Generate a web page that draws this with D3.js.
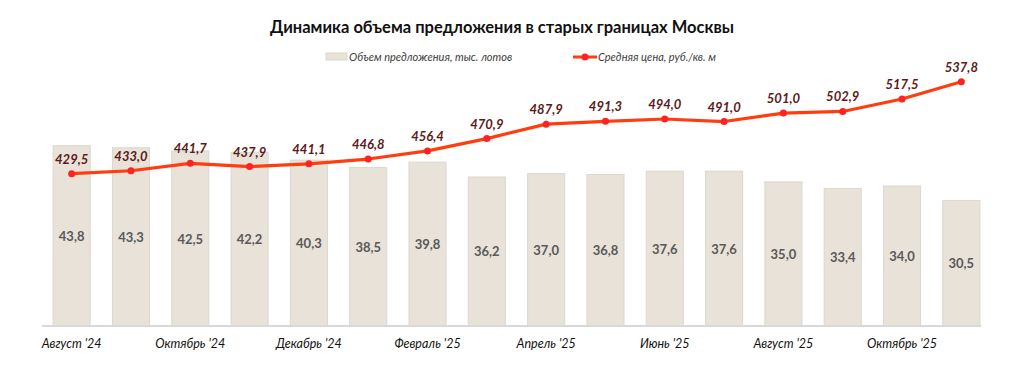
<!DOCTYPE html>
<html>
<head>
<meta charset="utf-8">
<script src="https://cdn.jsdelivr.net/npm/d3@7"></script>
<style>
  body { margin: 0; background: #fff; }
  svg { font-family: Lato, "Open Sans", sans-serif; }
</style>
</head>
<body>
<div id="chart"></div>
<script>
const months = ["Август '24", "Сентябрь '24", "Октябрь '24", "Ноябрь '24", "Декабрь '24", "Январь '25",
  "Февраль '25", "Март '25", "Апрель '25", "Май '25", "Июнь '25", "Июль '25",
  "Август '25", "Сентябрь '25", "Октябрь '25", "Ноябрь '25"];
const supply = [43.8, 43.3, 42.5, 42.2, 40.3, 38.5, 39.8, 36.2, 37.0, 36.8, 37.6, 37.6, 35.0, 33.4, 34.0, 30.5];
const price = [429.5, 433.0, 441.7, 437.9, 441.1, 446.8, 456.4, 470.9, 487.9, 491.3, 494.0, 491.0, 501.0, 502.9, 517.5, 537.8];

const width = 1034;
const height = 371;
const base = 326;
const fmt = v => d3.format(".1f")(v).replace(".", ",");

const x = d3.scaleBand().domain(months).range([42, 991]).paddingInner(0.375).paddingOuter(0.1875);
const yBar = d3.scaleLinear().domain([0, 60]).range([base, 79]);
const yLine = d3.scaleLinear().domain([250, 560]).range([base, 63]);

const svg = d3.select("#chart").append("svg")
  .attr("width", width)
  .attr("height", height);

svg.append("text")
  .attr("x", 502)
  .attr("y", 33)
  .attr("text-anchor", "middle")
  .attr("font-size", 16.5)
  .attr("font-weight", "bold")
  .attr("fill", "#111")
  .text("Динамика объема предложения в старых границах Москвы");

// legend
const leg = svg.append("g").attr("font-size", 11).attr("font-style", "italic").attr("fill", "#404040");
leg.append("rect").attr("x", 326).attr("y", 53).attr("width", 21).attr("height", 7)
  .attr("fill", "#e8e2d8").attr("stroke", "#dcd7cf");
leg.append("text").attr("x", 349).attr("y", 61).text("Объем предложения, тыс. лотов");
leg.append("line").attr("x1", 573).attr("x2", 597).attr("y1", 57).attr("y2", 57)
  .attr("stroke", "#ff3d0f").attr("stroke-width", 3);
leg.append("circle").attr("cx", 585).attr("cy", 57).attr("r", 3.5).attr("fill", "#ff2222");
leg.append("text").attr("x", 598).attr("y", 61).text("Средняя цена, руб./кв. м");

// bars
svg.selectAll("rect.bar")
  .data(supply)
  .enter()
  .append("rect")
  .attr("class", "bar")
  .attr("x", (d, i) => x(months[i]))
  .attr("y", d => yBar(d))
  .attr("width", x.bandwidth())
  .attr("height", d => base - yBar(d))
  .attr("fill", "#e8e2d8")
  .attr("stroke", "#dcd7cf")
  .attr("stroke-width", 1);

svg.selectAll("text.barlabel")
  .data(supply)
  .enter()
  .append("text")
  .attr("class", "barlabel")
  .attr("x", (d, i) => x(months[i]) + x.bandwidth() / 2)
  .attr("y", d => (yBar(d) + base) / 2 + 5)
  .attr("text-anchor", "middle")
  .attr("font-size", 13)
  .attr("font-weight", "bold")
  .attr("fill", "#595959")
  .text(fmt);

// axis
const xAxis = svg.append("g")
  .attr("transform", "translate(0," + base + ")")
  .call(d3.axisBottom(x).tickSize(0).tickFormat((d, i) => i % 2 === 0 ? d : ""));
xAxis.select(".domain").attr("stroke", "#d9d9d9").attr("stroke-width", 2).attr("d", "M42,0H981");
xAxis.selectAll("text")
  .attr("dy", 0)
  .attr("y", 22)
  .attr("font-family", "Lato, 'Open Sans', sans-serif")
  .attr("font-size", 12.5)
  .attr("font-style", "italic")
  .attr("fill", "#111");

// line
const line = d3.line()
  .x((d, i) => x(months[i]) + x.bandwidth() / 2)
  .y(d => yLine(d));

svg.append("path")
  .datum(price)
  .attr("d", line)
  .attr("fill", "none")
  .attr("stroke", "#ff3d0f")
  .attr("stroke-width", 3.2)
  .attr("stroke-linejoin", "round");

svg.selectAll("circle.pt")
  .data(price)
  .enter()
  .append("circle")
  .attr("class", "pt")
  .attr("cx", (d, i) => x(months[i]) + x.bandwidth() / 2)
  .attr("cy", d => yLine(d))
  .attr("r", 3.5)
  .attr("fill", "#ff2222");

svg.selectAll("text.pricelabel")
  .data(price)
  .enter()
  .append("text")
  .attr("class", "pricelabel")
  .attr("x", (d, i) => x(months[i]) + x.bandwidth() / 2)
  .attr("y", d => yLine(d) - 10)
  .attr("text-anchor", "middle")
  .attr("font-size", 13)
  .attr("font-weight", "bold")
  .attr("font-style", "italic")
  .attr("fill", "#5c1a1a")
  .text(fmt);
</script>
</body>
</html>
